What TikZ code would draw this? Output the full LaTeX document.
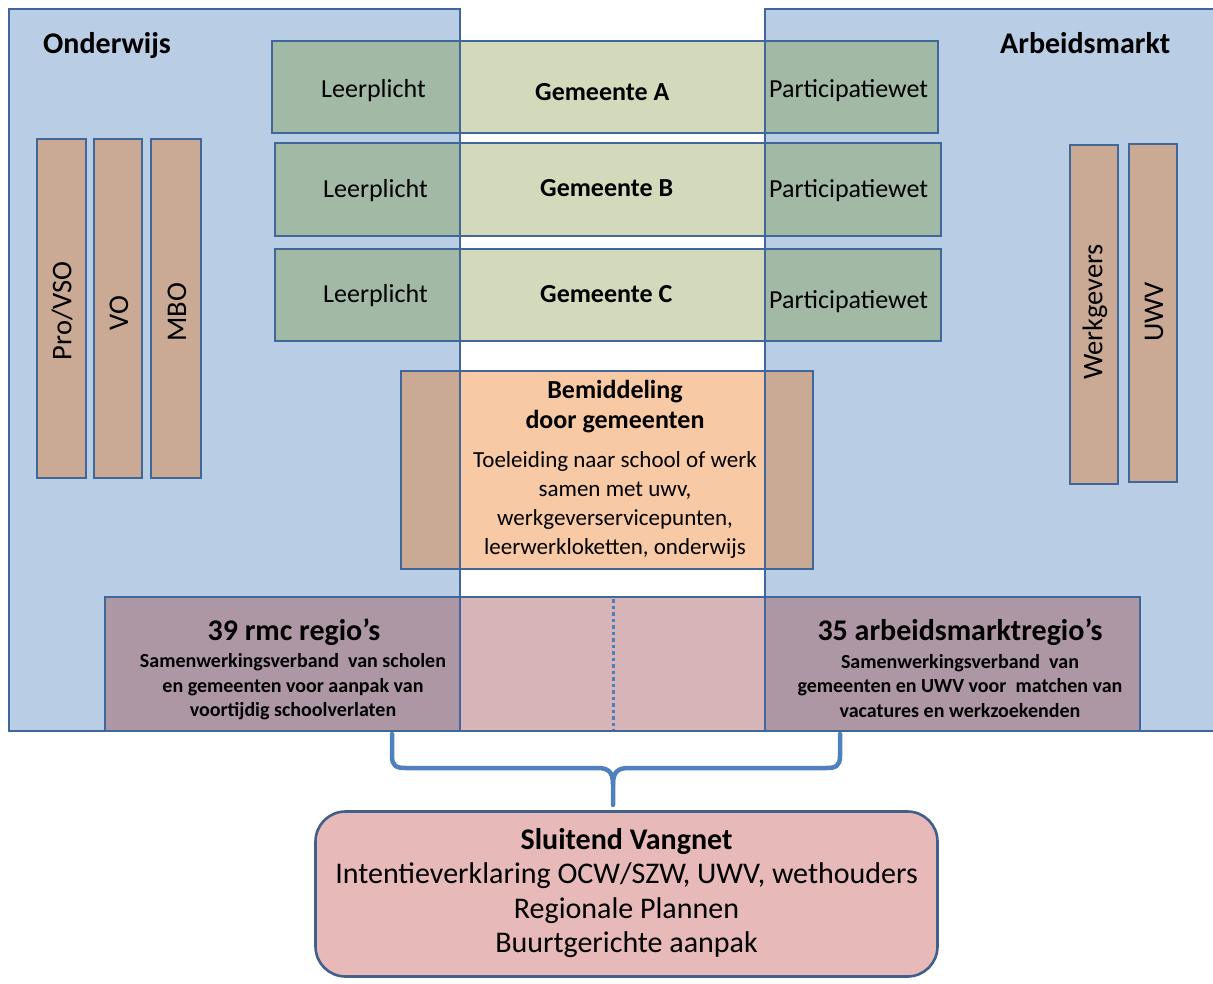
\documentclass[tikz,border=0pt]{standalone}
\usepackage{fontspec}
\setmainfont{Carlito}
\usetikzlibrary{fit}
\definecolor{panel}{HTML}{B9CDE5}
\definecolor{bord}{HTML}{40679A}
\definecolor{gemlight}{HTML}{D3DABB}
\definecolor{gemdark}{HTML}{A2B9A6}
\definecolor{tan}{HTML}{CBAA95}
\definecolor{peach}{HTML}{F8C9A5}
\definecolor{mauve}{HTML}{AE97A4}
\definecolor{pinkm}{HTML}{D7B4B8}
\definecolor{svfill}{HTML}{E7B9B8}
\definecolor{svbord}{HTML}{3F5F8C}
\definecolor{bracec}{HTML}{4F81BD}
\definecolor{dotc}{HTML}{5080BC}
\begin{document}
\begin{tikzpicture}[x=1pt,y=-1pt,
  outl/.style={draw=bord, line width=2.6pt, inner sep=0pt, outer sep=0pt},
  bar/.style={outl, fill=tan},
  title/.style={font=\fontsize{30}{34}\selectfont\bfseries, inner sep=0pt, anchor=base west},
  gemtxt/.style={font=\fontsize{26}{31}\selectfont, inner sep=0pt, anchor=base west},
  gembold/.style={font=\fontsize{26}{31}\selectfont\bfseries, inner sep=0pt, anchor=base west},
  bartxt/.style={font=\fontsize{28.5}{32}\selectfont, rotate=90, inner sep=0pt},
  braceline/.style={draw=bracec, line width=4.5pt, line cap=round, line join=round}
]
\useasboundingbox (0,0) rectangle (1213,983);
\clip (0,0) rectangle (1213,983);

% panel fills
\fill[panel] (9,9) rectangle (460,731);
\fill[panel] (765,9) rectangle (1230,731);

% bars
\node[bar, fit={(37,139) (86,478)}] (provso) {};
\node[bar, fit={(94,139) (142,478)}] (vo) {};
\node[bar, fit={(151,139) (201,478)}] (mbo) {};
\node[bar, fit={(1070,145) (1118,484)}] (werkg) {};
\node[bar, fit={(1129,144) (1177,482)}] (uwv) {};

% gemeente rows
\fill[gemlight] (272,41) rectangle (938,133);
\fill[gemdark] (272,41) rectangle (460,133);
\fill[gemdark] (765,41) rectangle (938,133);
\node[outl, fit={(272,41) (938,133)}] (rowA) {};

\fill[gemlight] (275,143) rectangle (941,236);
\fill[gemdark] (275,143) rectangle (460,236);
\fill[gemdark] (765,143) rectangle (941,236);
\node[outl, fit={(275,143) (941,236)}] (rowB) {};

\fill[gemlight] (275,249) rectangle (941,341);
\fill[gemdark] (275,249) rectangle (460,341);
\fill[gemdark] (765,249) rectangle (941,341);
\node[outl, fit={(275,249) (941,341)}] (rowC) {};

% bemiddeling
\fill[peach] (401,371) rectangle (813,569);
\fill[tan] (401,371) rectangle (460,569);
\fill[tan] (765,371) rectangle (813,569);
\node[outl, fit={(401,371) (813,569)}] (bemid) {};

% bottom row
\fill[pinkm] (105,597) rectangle (1140,731);
\fill[mauve] (105,597) rectangle (460,731);
\fill[mauve] (765,597) rectangle (1140,731);
\node[outl, fit={(105,597) (1140,731)}] (regio) {};
\coordinate (dtop) at (613,599);
\coordinate (dbot) at (613,730);
\draw[dotc, line width=3pt, dash pattern=on 3.5pt off 3pt] (dtop) -- (dbot);

% panel outlines
\node[outl, fit={(9,9) (460,731)}] (onderwijs) {};
\node[outl, fit={(765,9) (1230,731)}] (arbeid) {};

% titles
\node[title] (tOnd) at (43,53) {Onderwijs};
\node[title] (tArb) at (1000,53) {Arbeidsmarkt};

% row texts
\node[gemtxt] (lpA) at (321,97) {Leerplicht};
\node[gemtxt] (lpB) at (323,197) {Leerplicht};
\node[gemtxt] (lpC) at (323,302) {Leerplicht};
\node[gembold] (gA) at (535,100) {Gemeente A};
\node[gembold] (gB) at (540,196) {Gemeente B};
\node[gembold] (gC) at (540,302) {Gemeente C};
\node[gemtxt] (pwA) at (769,97) {Participatiewet};
\node[gemtxt] (pwB) at (769,197) {Participatiewet};
\node[gemtxt] (pwC) at (769,308) {Participatiewet};

% bar texts
\node[bartxt] (tpro) at (62,311) {Pro/VSO};
\node[bartxt] (tvo) at (119,313) {VO};
\node[bartxt] (tmbo) at (177,312) {MBO};
\node[bartxt] (twerk) at (1095,312) {Werkgevers};
\node[bartxt] (tuwv) at (1154,312) {UWV};

% bemiddeling texts
\node[font=\fontsize{26}{30}\selectfont\bfseries, align=center, inner sep=0pt] (bemT) at (615,407) {Bemiddeling\\door gemeenten};
\node[font=\fontsize{23}{28.7}\selectfont, align=center, inner sep=0pt] (bemD) at (615,505) {Toeleiding naar school of werk\\samen met uwv,\\werkgeverservicepunten,\\leerwerkloketten, onderwijs};

% regio texts
\node[font=\fontsize{30}{34}\selectfont\bfseries, inner sep=0pt] (rmcT) at (294,632) {39 rmc regio’s};
\node[font=\fontsize{20}{24.5}\selectfont\bfseries, align=center, inner sep=0pt] (rmcD) at (293,687) {Samenwerkingsverband\ \ van scholen\\en gemeenten voor aanpak van\\voortijdig schoolverlaten};
\node[font=\fontsize{30}{34}\selectfont\bfseries, inner sep=0pt] (armT) at (960,632) {35 arbeidsmarktregio’s};
\node[font=\fontsize{20}{24.5}\selectfont\bfseries, align=center, inner sep=0pt] (armD) at (960,686) {Samenwerkingsverband\ \ van\\gemeenten en UWV voor\ \ matchen van\\vacatures en werkzoekenden};

% sluitend vangnet
\node[draw=svbord, line width=2.6pt, fill=svfill, rounded corners=30pt, minimum width=622pt, minimum height=165pt, inner sep=0pt] (sv) at (626.5,894) {};
\node[font=\fontsize{30}{34.5}\selectfont, align=center, inner sep=0pt] (svT) at (626.5,893) {\textbf{Sluitend Vangnet}\\Intentieverklaring OCW/SZW, UWV, wethouders\\Regionale Plannen\\Buurtgerichte aanpak};

% brace
\coordinate (bl) at (392,734);
\coordinate (br) at (840,734);
\coordinate (stem) at (613,784);
\coordinate (stemend) at (613,805);
\draw[braceline] (bl) -- (392,756) .. controls (392,766) and (396,768) .. (406,768) -- (598,768) .. controls (608,768) and (613,772) .. (stem) -- (stemend);
\draw[braceline] (br) -- (840,756) .. controls (840,766) and (836,768) .. (826,768) -- (628,768) .. controls (618,768) and (613,772) .. (stem);
\end{tikzpicture}
\end{document}
